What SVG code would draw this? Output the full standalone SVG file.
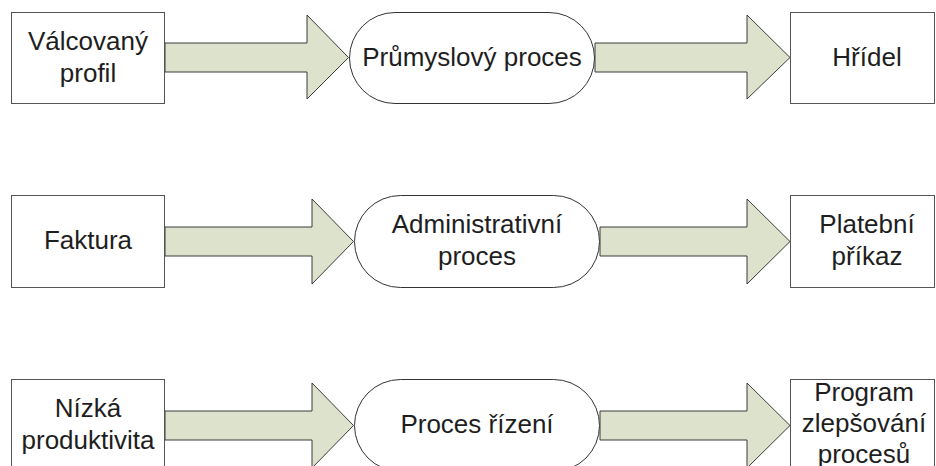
<svg xmlns="http://www.w3.org/2000/svg" width="936" height="466" viewBox="0 0 936 466">
  <style>
    .box { fill: #ffffff; stroke: #555555; stroke-width: 1; }
    .proc { fill: #ffffff; stroke: #333333; stroke-width: 1; }
    .flow { fill: #dde2cc; stroke: #3a3a3a; stroke-width: 1; stroke-linejoin: miter; }
    text { font-family: "Liberation Sans", Arial, sans-serif; font-size: 26px; fill: #1e1e1e; text-anchor: middle; }
  </style>

  <!-- block arrows between the stages -->
  <g id="connectors">
    <polygon class="flow" points="165,43 307,43 307,15 348.5,57.5 307,99 307,72 165,72"/>
    <polygon class="flow" points="595,43 747,43 747,15 790,57.5 747,99 747,72 595,72"/>
    <polygon class="flow" points="165,227 312,227 312,199 353.5,241.5 312,284 312,256 165,256"/>
    <polygon class="flow" points="600,227 747,227 747,199 790,241.5 747,284 747,256 600,256"/>
    <polygon class="flow" points="165,411 312,411 312,383 353.5,425.5 312,468 312,440 165,440"/>
    <polygon class="flow" points="600,411 747,411 747,383 790,425.5 747,468 747,440 600,440"/>
  </g>

  <!-- row 1: manufacturing -->
  <g id="valcovany-profil">
    <rect class="box" x="11.5" y="12.5" width="153" height="91"/>
    <text x="88" y="50">Válcovaný</text>
    <text x="88" y="82">profil</text>
  </g>
  <g id="prumyslovy-proces">
    <rect class="proc" x="349.5" y="12.5" width="245" height="91" rx="45.5" ry="45.5"/>
    <text x="472" y="66">Průmyslový proces</text>
  </g>
  <g id="hridel">
    <rect class="box" x="790.5" y="12.5" width="144" height="91"/>
    <text x="867" y="66">Hřídel</text>
  </g>

  <!-- row 2: administration -->
  <g id="faktura">
    <rect class="box" x="11.5" y="195.5" width="153" height="92"/>
    <text x="88" y="249">Faktura</text>
  </g>
  <g id="administrativni-proces">
    <rect class="proc" x="354.5" y="195.5" width="245" height="92" rx="46" ry="46"/>
    <text x="477" y="233">Administrativní</text>
    <text x="477" y="265">proces</text>
  </g>
  <g id="platebni-prikaz">
    <rect class="box" x="790.5" y="195.5" width="144" height="92"/>
    <text x="867" y="233">Platební</text>
    <text x="867" y="265">příkaz</text>
  </g>

  <!-- row 3: management -->
  <g id="nizka-produktivita">
    <rect class="box" x="11.5" y="379.5" width="153" height="92"/>
    <text x="88" y="417">Nízká</text>
    <text x="88" y="449">produktivita</text>
  </g>
  <g id="proces-rizeni">
    <rect class="proc" x="354.5" y="379.5" width="245" height="92" rx="46" ry="46"/>
    <text x="477" y="433">Proces řízení</text>
  </g>
  <g id="program-zlepsovani">
    <rect class="box" x="790.5" y="379.5" width="144" height="92"/>
    <text x="864" y="401">Program</text>
    <text x="864" y="432">zlepšování</text>
    <text x="864" y="463">procesů</text>
  </g>
</svg>
